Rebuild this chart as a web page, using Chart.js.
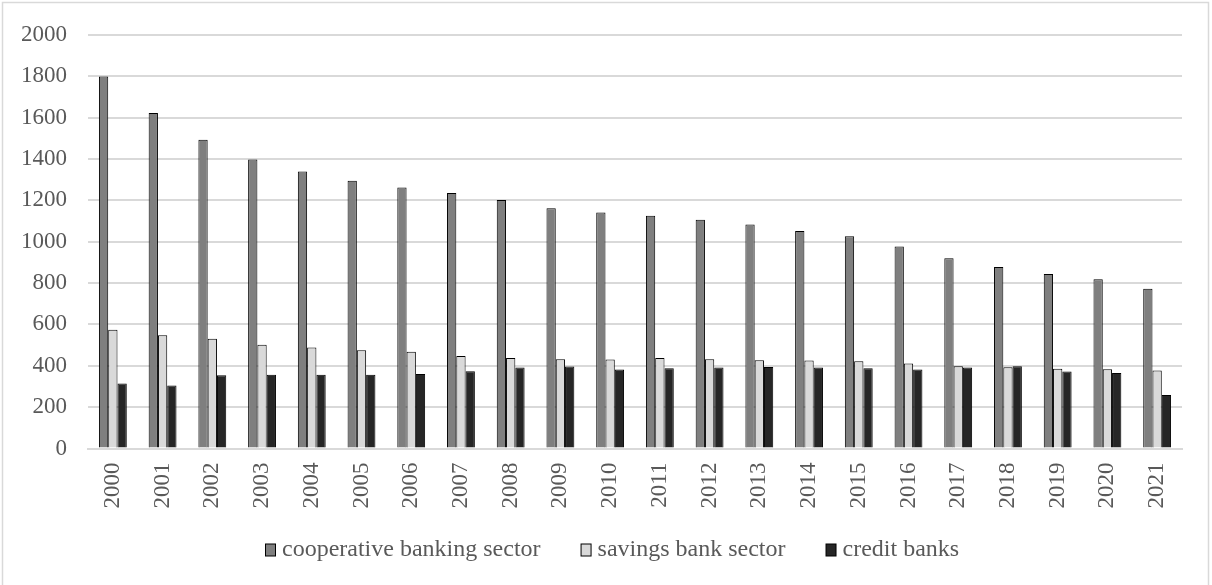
<!DOCTYPE html>
<html>
<head>
<meta charset="utf-8">
<script src="https://cdn.jsdelivr.net/npm/chart.js@4"></script>
<style>
  html, body { margin: 0; padding: 0; background: #fff; }
  #wrap { position: absolute; left: 0; top: 0; width: 1212px; height: 585px; }
</style>
</head>
<body>
<div id="wrap"><canvas id="c" width="1212" height="585"></canvas></div>
<script>
const years = ['2000','2001','2002','2003','2004','2005','2006','2007','2008','2009','2010',
               '2011','2012','2013','2014','2015','2016','2017','2018','2019','2020','2021'];
const cooperative = [1798,1622,1493,1397,1339,1295,1262,1235,1201,1162,1141,1125,1106,1083,1051,1026,976,920,878,844,818,772];
const savings = [574,547,531,502,488,475,468,447,438,431,430,437,431,427,425,422,411,398,393,385,383,377];
const credit = [314,305,354,357,357,357,360,373,391,396,382,388,391,394,391,388,382,391,398,372,365,259];
const seriesNames = ['cooperative banking sector','savings bank sector','credit banks'];
const seriesColors = ['#7f7f7f','#d9d9d9','#262626'];
const yMin = 0, yMax = 2000, yStep = 200;

const FONT = '"Liberation Serif", "Times New Roman", serif';

const frame = {
  id: 'frame',
  beforeDraw(chart) {
    const ctx = chart.ctx;
    ctx.save();
    ctx.fillStyle = '#fff';
    ctx.fillRect(0, 0, chart.width, chart.height);
    ctx.strokeStyle = '#d9d9d9';
    ctx.lineWidth = 1.5;
    ctx.strokeRect(2.5, 2.5, 1206, 600);
    ctx.restore();
  }
};

const legendPlugin = {
  id: 'customLegend',
  afterDraw(chart) {
    const ctx = chart.ctx;
    ctx.save();
    ctx.font = '24px ' + FONT;
    ctx.textBaseline = 'middle';
    const boxW = 11, boxH = 13, gap = 6, itemGap = 40;
    const ds = chart.data.datasets;
    let total = 0;
    ds.forEach((d, i) => {
      total += boxW + gap + ctx.measureText(d.label).width;
      if (i < ds.length - 1) total += itemGap;
    });
    let x = Math.round(612 - total / 2);
    const cy = 550;
    ds.forEach(d => {
      ctx.fillStyle = d.backgroundColor;
      ctx.fillRect(x + 0.5, cy - boxH / 2 + 0.5, boxW - 1, boxH - 1);
      ctx.strokeStyle = '#000';
      ctx.lineWidth = 1;
      ctx.strokeRect(x + 0.5, cy - boxH / 2 + 0.5, boxW - 1, boxH - 1);
      x += boxW + gap;
      ctx.fillStyle = '#595959';
      ctx.fillText(d.label, x, cy);
      x += ctx.measureText(d.label).width + itemGap;
    });
    ctx.restore();
  }
};

const makeDs = (label, data, color) => ({
  label, data,
  backgroundColor: color,
  borderColor: '#000',
  borderWidth: 1,
  categoryPercentage: 0.56,
  barPercentage: 1.0
});

new Chart(document.getElementById('c'), {
  type: 'bar',
  data: {
    labels: years,
    datasets: [
      makeDs(seriesNames[0], cooperative, seriesColors[0]),
      makeDs(seriesNames[1], savings, seriesColors[1]),
      makeDs(seriesNames[2], credit, seriesColors[2])
    ]
  },
  options: {
    responsive: false,
    devicePixelRatio: 1,
    animation: false,
    layout: { padding: { top: 33, right: 30, bottom: 66.5, left: 0 } },
    plugins: { legend: { display: false }, tooltip: { enabled: false } },
    scales: {
      x: {
        grid: { display: false, drawTicks: false },
        border: { display: true, color: '#d9d9d9', width: 2 },
        ticks: {
          color: '#595959',
          font: { family: FONT, size: 23 },
          minRotation: 90, maxRotation: 90,
          padding: 14,
          autoSkip: false
        },
        afterFit(s) { s.height = 70; }
      },
      y: {
        min: yMin, max: yMax,
        grid: { color: '#d9d9d9', lineWidth: 2, drawTicks: false },
        border: { display: false },
        ticks: {
          stepSize: yStep,
          color: '#595959',
          font: { family: FONT, size: 23 },
          padding: 21,
          callback: v => String(v)
        },
        afterFit(s) { s.width = 88; }
      }
    }
  },
  plugins: [frame, legendPlugin]
});
</script>
</body>
</html>
